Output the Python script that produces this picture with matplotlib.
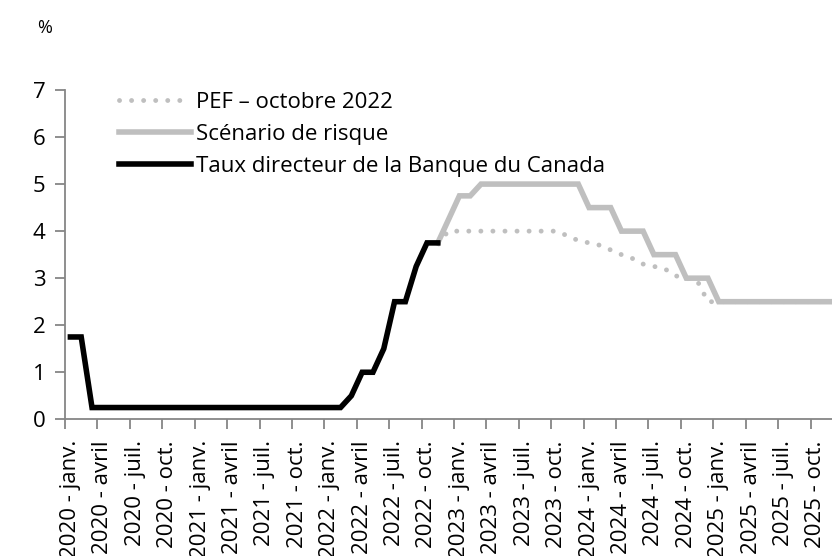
import numpy as np
import matplotlib
matplotlib.use("Agg")
import matplotlib.pyplot as plt

plt.rcParams['font.family'] = ['Open Sans', 'DejaVu Sans']

# monthly categories, Jan 2020 - Dec 2025
years = [2020, 2021, 2022, 2023, 2024, 2025]
months = ["janv.", "avril", "juil.", "oct."]
tick_labels = [f"{y} - {m}" for y in years for m in months]

# Bank of Canada policy rate, Jan 2020 - Nov 2022
taux = [1.75, 1.75, 0.25,
        0.25, 0.25, 0.25, 0.25, 0.25, 0.25, 0.25, 0.25, 0.25,
        0.25, 0.25, 0.25, 0.25, 0.25, 0.25, 0.25, 0.25, 0.25, 0.25, 0.25, 0.25,
        0.25, 0.25, 0.5, 1.0, 1.0, 1.5, 2.5, 2.5, 3.25, 3.75, 3.75]

# risk scenario, Nov 2022 - Dec 2025
risque = [3.75, 4.25,
          4.75, 4.75, 5.0, 5.0, 5.0, 5.0, 5.0, 5.0, 5.0, 5.0, 5.0, 5.0,
          4.5, 4.5, 4.5, 4.0, 4.0, 4.0, 3.5, 3.5, 3.5, 3.0, 3.0, 3.0,
          2.5, 2.5, 2.5, 2.5, 2.5, 2.5, 2.5, 2.5, 2.5, 2.5, 2.5, 2.5]

# PEF october 2022, Nov 2022 - Dec 2025
pef = [3.75, 4.0,
       4.0, 4.0, 4.0, 4.0, 4.0, 4.0, 4.0, 4.0, 4.0, 4.0, 3.9, 3.8,
       3.75, 3.7, 3.6, 3.5, 3.42, 3.3, 3.25, 3.2, 3.05, 3.0, 2.95, 2.5,
       2.5, 2.5, 2.5, 2.5, 2.5, 2.5, 2.5, 2.5, 2.5, 2.5, 2.5, 2.5]

n_months = 72
x_taux = np.arange(len(taux)) + 0.5
x_proj = np.arange(len(taux) - 1, n_months) + 0.5

fig = plt.figure(figsize=(8.32, 5.56), dpi=100)
ax = fig.add_axes([65 / 832, 136.7 / 556, 778 / 832, 329.3 / 556])

gray = "#bfbfbf"
l_pef, = ax.plot(x_proj, pef, color=gray, lw=3.5, linestyle=(0, (0.01, 2.47)),
                 dash_capstyle="round", label="PEF – octobre 2022")
l_risk, = ax.plot(x_proj, risque, color=gray, lw=4, solid_joinstyle="miter",
                  label="Scénario de risque")
l_taux, = ax.plot(x_taux, taux, color="black", lw=4, solid_joinstyle="miter",
                  label="Taux directeur de la Banque du Canada")

ax.set_xlim(0, n_months)
ax.set_ylim(0, 7)
ax.set_yticks(range(0, 8))

ax.set_xticks(np.arange(0, n_months, 3))
ax.set_xticklabels([])
ax.set_xticks(np.arange(0, n_months, 3) + 0.5, minor=True)
ax.set_xticklabels(tick_labels, minor=True, rotation=90, fontsize=16)
ax.tick_params(axis="x", which="minor", length=0, pad=15)
ax.tick_params(axis="x", which="major", length=7, color="#868686", width=1.3)
ax.tick_params(axis="y", length=7, color="#868686", width=1.3, labelsize=16, pad=7)

for side in ["top", "right"]:
    ax.spines[side].set_visible(False)
for side in ["left", "bottom"]:
    ax.spines[side].set_color("#868686")
    ax.spines[side].set_linewidth(1.3)

fig.text(37 / 832, 1 - 28 / 556, "%", fontsize=13, va="center", ha="left")

ax.legend(handles=[l_pef, l_risk, l_taux], loc="upper left",
          bbox_to_anchor=(119 / 832, 1 - 92 / 556), bbox_transform=fig.transFigure,
          frameon=False, fontsize=16, handlelength=3.25, handletextpad=0.22,
          labelspacing=0.5, borderpad=0, borderaxespad=0)

fig.savefig("out.png", dpi=100)
